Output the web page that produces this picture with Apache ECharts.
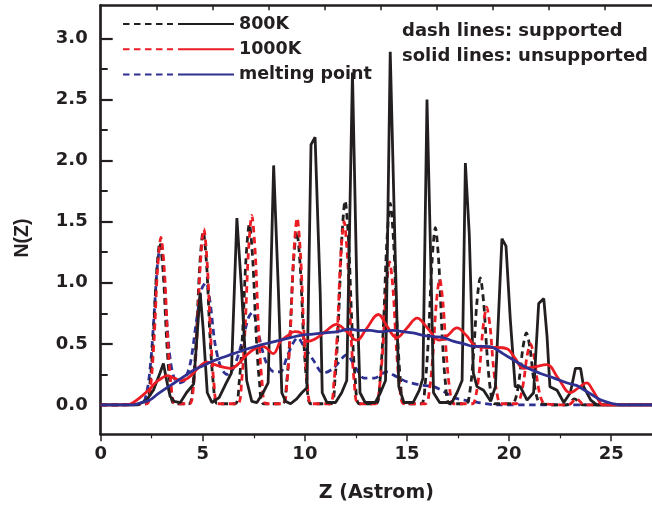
<!DOCTYPE html>
<html>
<head>
<meta charset="utf-8">
<script src="https://cdn.jsdelivr.net/npm/echarts@6/dist/echarts.min.js"></script>
<style>
    html, body {margin: 0; padding: 0; background: #fff;}
    #chart {width: 652px; height: 513px;}
</style>
</head>
<body>
<div id="chart"></div>
<script>
    // tick labels
    var xTicks = [0, 5, 10, 15, 20, 25];
    var xMinorTicks = [2.5, 7.5, 12.5, 17.5, 22.5];
    var yTicks = [0, 0.5, 1.0, 1.5, 2.0, 2.5, 3.0];
    var yMinorTicks = [0.25, 0.75, 1.25, 1.75, 2.25, 2.75];
    var topTicks = [1, 2, 3, 4, 5, 6, 7, 8, 9];

    // 800K, supported (dash)
    var sup800 = [[0, 0], [2.2, 0.01], [2.4, 0.16], [2.57, 0.53], [2.73, 1.06], [2.9, 1.33], [3.07, 1.06], [3.23, 0.53], [3.4, 0.16], [3.6, 0.01],
        [4.32, 0.01], [4.52, 0.17], [4.69, 0.57], [4.85, 1.14], [5.02, 1.42], [5.19, 1.14], [5.35, 0.57], [5.52, 0.17], [5.72, 0.01],
        [6.58, 0.01], [6.78, 0.18], [6.95, 0.59], [7.11, 1.18], [7.28, 1.48], [7.45, 1.18], [7.61, 0.59], [7.78, 0.18], [7.98, 0.01],
        [8.9, 0.01], [9.1, 0.17], [9.27, 0.57], [9.43, 1.14], [9.6, 1.42], [9.77, 1.14], [9.93, 0.57], [10.1, 0.17], [10.3, 0.01],
        [11.27, 0.01], [11.47, 0.2], [11.64, 0.67], [11.8, 1.34], [11.97, 1.67], [12.14, 1.34], [12.3, 0.67], [12.47, 0.2], [12.67, 0.01],
        [13.48, 0.01], [13.68, 0.2], [13.85, 0.66], [14.01, 1.32], [14.18, 1.65], [14.35, 1.32], [14.51, 0.66], [14.68, 0.2], [14.88, 0.01],
        [15.69, 0.01], [15.89, 0.17], [16.06, 0.58], [16.22, 1.16], [16.39, 1.45], [16.56, 1.16], [16.72, 0.58], [16.89, 0.17], [17.09, 0.01],
        [17.89, 0.01], [18.09, 0.12], [18.26, 0.42], [18.42, 0.83], [18.59, 1.04], [18.76, 0.83], [18.92, 0.42], [19.09, 0.12], [19.29, 0.01],
        [20.15, 0.01], [20.35, 0.07], [20.52, 0.24], [20.68, 0.47], [20.85, 0.59], [21.02, 0.47], [21.18, 0.24], [21.35, 0.07], [21.55, 0.01],
        [22.8, 0], [23.2, 0.05], [23.6, 0], [27, 0]];

    // 1000K, supported (dash)
    var sup1000 = [[0, 0], [2.25, 0.01], [2.45, 0.16], [2.62, 0.55], [2.78, 1.1], [2.95, 1.37], [3.12, 1.1], [3.28, 0.55], [3.45, 0.16], [3.65, 0.01],
        [4.35, 0.01], [4.55, 0.17], [4.72, 0.58], [4.88, 1.15], [5.05, 1.44], [5.22, 1.15], [5.38, 0.58], [5.55, 0.17], [5.75, 0.01],
        [6.7, 0.01], [6.9, 0.19], [7.07, 0.62], [7.23, 1.24], [7.4, 1.55], [7.57, 1.24], [7.73, 0.62], [7.9, 0.19], [8.1, 0.01],
        [8.92, 0.01], [9.12, 0.18], [9.29, 0.61], [9.45, 1.22], [9.62, 1.53], [9.79, 1.22], [9.95, 0.61], [10.12, 0.18], [10.32, 0.01],
        [11.22, 0.01], [11.42, 0.18], [11.59, 0.6], [11.75, 1.2], [11.92, 1.5], [12.09, 1.2], [12.25, 0.6], [12.42, 0.18], [12.62, 0.01],
        [13.45, 0.01], [13.65, 0.14], [13.82, 0.47], [13.98, 0.94], [14.15, 1.17], [14.32, 0.94], [14.48, 0.47], [14.65, 0.14], [14.85, 0.01],
        [15.9, 0.01], [16.1, 0.12], [16.27, 0.41], [16.43, 0.82], [16.6, 1.03], [16.77, 0.82], [16.93, 0.41], [17.1, 0.12], [17.3, 0.01],
        [18.2, 0.01], [18.4, 0.1], [18.57, 0.32], [18.73, 0.64], [18.9, 0.8], [19.07, 0.64], [19.23, 0.32], [19.4, 0.1], [19.6, 0.01],
        [20.35, 0.01], [20.55, 0.06], [20.72, 0.2], [20.88, 0.4], [21.05, 0.5], [21.22, 0.4], [21.38, 0.2], [21.55, 0.06], [21.75, 0.01],
        [22.9, 0], [23.3, 0.05], [23.7, 0], [27, 0]];

    // melting point, supported (dash)
    var supMelt = [[0, 0], [2.0, 0.01], [2.25, 0.1], [2.45, 0.35], [2.62, 0.75], [2.78, 1.15], [2.92, 1.3], [3.07, 1.12], [3.23, 0.7], [3.4, 0.38],
        [3.6, 0.22], [3.85, 0.18], [4.1, 0.2], [4.4, 0.35], [4.7, 0.7], [4.95, 0.95], [5.15, 1.0], [5.35, 0.85], [5.6, 0.5], [5.9, 0.3],
        [6.2, 0.25], [6.5, 0.3], [6.9, 0.5], [7.25, 0.72], [7.45, 0.76], [7.7, 0.6], [8.1, 0.35], [8.5, 0.27], [8.8, 0.27], [9.1, 0.38],
        [9.4, 0.5], [9.65, 0.55], [9.95, 0.48], [10.4, 0.37], [10.9, 0.26], [11.4, 0.3], [12.05, 0.41], [12.5, 0.3], [12.9, 0.22], [13.4, 0.22],
        [14.0, 0.27], [14.5, 0.23], [15.0, 0.19], [15.8, 0.16], [16.3, 0.15], [16.8, 0.11], [17.3, 0.06], [17.8, 0.04], [18.5, 0.02], [19.5, 0],
        [27, 0]];

    // 800K, unsupported (solid)
    var unsup800 = [[0, 0], [1.8, 0], [2.25, 0.04], [2.58, 0.12], [2.9, 0.26], [3.07, 0.34], [3.23, 0.2], [3.4, 0.07], [3.6, 0.03], [3.9, 0.02],
        [4.2, 0.1], [4.55, 0.17], [4.87, 0.92], [5.02, 0.62], [5.22, 0.1], [5.45, 0.02], [5.8, 0.06], [6.15, 0.18], [6.4, 0.26], [6.67, 1.53],
        [6.9, 0.94], [7.15, 0.2], [7.4, 0.03], [7.65, 0.02], [7.95, 0.1], [8.2, 0.18], [8.47, 1.96], [8.7, 0.95], [8.87, 0.1], [9.05, 0.03],
        [9.3, 0.01], [9.6, 0.05], [9.85, 0.1], [10.1, 0.14], [10.3, 2.13], [10.5, 2.19], [10.75, 0.92], [10.85, 0.1], [11.08, 0.02], [11.5, 0.02],
        [11.8, 0.1], [12.05, 0.2], [12.33, 2.72], [12.55, 0.92], [12.7, 0.1], [12.95, 0.02], [13.45, 0.02], [13.7, 0.1], [13.95, 0.2], [14.18, 2.89],
        [14.43, 1.19], [14.6, 0.15], [14.85, 0.02], [15.3, 0.02], [15.6, 0.12], [15.78, 0.22], [15.98, 2.5], [16.2, 0.92], [16.3, 0.1], [16.6, 0.02],
        [17.2, 0.02], [17.45, 0.1], [17.7, 0.2], [17.86, 1.98], [18.05, 1.4], [18.25, 0.26], [18.43, 0.15], [18.75, 0.12], [19.1, 0.03], [19.33, 0.15],
        [19.65, 1.36], [19.85, 1.3], [20.06, 0.7], [20.3, 0.15], [20.55, 0.15], [20.88, 0.04], [21.2, 0.1], [21.45, 0.83], [21.7, 0.87], [21.86, 0.56],
        [22.0, 0.15], [22.35, 0.12], [22.68, 0.02], [23.0, 0.1], [23.25, 0.3], [23.5, 0.3], [23.65, 0.15], [24.0, 0.04], [24.3, 0], [27, 0]];

    // 1000K, unsupported (solid)
    var unsup1000 = [[0, 0], [1.3, 0], [1.6, 0.02], [2.07, 0.08], [2.4, 0.13], [2.73, 0.19], [3.0, 0.22], [3.25, 0.24], [3.6, 0.22], [3.95, 0.2],
        [4.35, 0.23], [4.7, 0.29], [5.2, 0.35], [5.6, 0.33], [6.0, 0.31], [6.4, 0.3], [6.7, 0.33], [7.15, 0.41], [7.55, 0.46], [7.95, 0.48],
        [8.45, 0.42], [8.8, 0.52], [9.1, 0.56], [9.5, 0.6], [9.8, 0.59], [10.1, 0.52], [10.5, 0.54], [11.0, 0.6], [11.55, 0.66], [12.05, 0.6],
        [12.55, 0.53], [13.0, 0.62], [13.6, 0.74], [14.0, 0.65], [14.5, 0.55], [15.0, 0.63], [15.5, 0.71], [16.0, 0.63], [16.6, 0.53], [17.0, 0.57],
        [17.45, 0.63], [17.9, 0.57], [18.4, 0.48], [18.9, 0.47], [19.4, 0.47], [19.9, 0.46], [20.3, 0.38], [20.7, 0.3], [21.2, 0.31], [21.85, 0.33],
        [22.4, 0.22], [23.0, 0.1], [23.4, 0.14], [23.8, 0.18], [24.1, 0.12], [24.35, 0.05], [24.6, 0], [27, 0]];

    // melting point, unsupported (solid)
    var unsupMelt = [[0, 0], [1.6, 0], [2.0, 0.02], [2.4, 0.04], [2.8, 0.09], [3.23, 0.14], [3.6, 0.18], [4.05, 0.23], [4.5, 0.28], [4.87, 0.31],
        [5.5, 0.36], [6.0, 0.39], [6.5, 0.42], [7.2, 0.46], [7.8, 0.49], [8.3, 0.51], [8.8, 0.53], [9.3, 0.55], [9.8, 0.57], [10.4, 0.58],
        [11.0, 0.59], [11.6, 0.6], [12.2, 0.62], [12.7, 0.61], [13.2, 0.61], [13.7, 0.6], [14.3, 0.61], [14.8, 0.6], [15.3, 0.59], [15.8, 0.57],
        [16.3, 0.56], [16.8, 0.55], [17.3, 0.52], [17.8, 0.5], [18.25, 0.48], [18.8, 0.48], [19.2, 0.47], [19.7, 0.42], [20.2, 0.37], [20.8, 0.31],
        [21.5, 0.26], [22.2, 0.22], [22.85, 0.18], [23.3, 0.16], [23.6, 0.13], [24.0, 0.09], [24.5, 0.04], [25.1, 0.01], [25.5, 0], [27, 0]];

    var BLACK = '#231f20', RED = '#ec1c24', BLUE = '#2e3192';
    var FONT = 'DejaVu Sans';

    var chart = echarts.init(document.getElementById('chart'));

    function lineSeries(name, data, color, dashed, smooth) {
        return {
            name: name,
            type: 'line',
            data: data,
            symbol: 'none',
            smooth: smooth,
            animation: false,
            lineStyle: {color: color, width: 2.8, type: dashed ? [6.5, 4.5] : 'solid'},
            itemStyle: {color: color}
        };
    }

    var legendText = {fontFamily: FONT, fontWeight: 'bold', fontSize: 17.5, color: BLACK};

    var option = {
        animation: false,
        grid: {left: 100.7, right: 0, top: 5.3, bottom: 78.7, containLabel: false},
        legend: [
            {
                data: ['800K supported', '1000K supported', 'melting point supported'],
                orient: 'vertical', left: 122, top: 15, padding: 0,
                itemWidth: 50, itemHeight: 14, itemGap: 7.2,
                selectedMode: false,
                itemStyle: {opacity: 0},
                formatter: function () { return ' '; },
                textStyle: legendText
            },
            {
                data: ['800K', '1000K', 'melting point'],
                orient: 'vertical', left: 177, top: 15, padding: 0,
                itemWidth: 56, itemHeight: 14, itemGap: 7.2,
                selectedMode: false,
                itemStyle: {opacity: 0},
                textStyle: legendText
            }
        ],
        xAxis: [
            {
                type: 'value', position: 'bottom', min: 0, max: 27,
                name: 'Z (Astrom)', nameLocation: 'middle', nameGap: 49,
                nameTextStyle: {fontFamily: FONT, fontWeight: 'bold', fontSize: 19, color: BLACK},
                axisLine: {onZero: false, lineStyle: {color: BLACK, width: 2.7}},
                axisTick: {customValues: xTicks, length: 7, inside: false, lineStyle: {color: BLACK, width: 1.5}},
                axisLabel: {customValues: xTicks, margin: 11, fontFamily: FONT, fontWeight: 'bold', fontSize: 18, color: BLACK},
                splitLine: {show: false}
            },
            {
                type: 'value', position: 'bottom', min: 0, max: 27,
                axisLine: {show: false, onZero: false},
                axisTick: {customValues: xMinorTicks, length: 4, inside: false, lineStyle: {color: BLACK, width: 1.2}},
                axisLabel: {show: false},
                splitLine: {show: false}
            },
            {
                type: 'value', position: 'top', min: 0, max: 9.845,
                axisLine: {onZero: false, lineStyle: {color: BLACK, width: 2.5}},
                axisTick: {customValues: topTicks, length: 5, inside: true, lineStyle: {color: BLACK, width: 1.5}},
                axisLabel: {show: false},
                splitLine: {show: false}
            }
        ],
        yAxis: [
            {
                type: 'value', position: 'left', min: -0.24, max: 3.27,
                axisLine: {onZero: false, lineStyle: {color: BLACK, width: 2.7}},
                axisTick: {customValues: yTicks, length: 12, inside: true, lineStyle: {color: BLACK, width: 2.2}},
                axisLabel: {
                    customValues: yTicks, margin: 13, fontFamily: FONT, fontWeight: 'bold', fontSize: 18, color: BLACK,
                    formatter: function (v) { return v.toFixed(1); }
                },
                splitLine: {show: false}
            },
            {
                type: 'value', position: 'left', min: -0.24, max: 3.27,
                axisLine: {show: false, onZero: false},
                axisTick: {customValues: yMinorTicks, length: 7, inside: true, lineStyle: {color: BLACK, width: 2}},
                axisLabel: {show: false},
                splitLine: {show: false}
            }
        ],
        graphic: [
            {
                type: 'text', x: 23, y: 238, rotation: Math.PI / 2,
                style: {text: 'N(Z)', font: 'bold 19.5px "Liberation Sans"', fill: BLACK, align: 'center', verticalAlign: 'middle'}
            },
            {
                type: 'text', x: 402, y: 31,
                style: {text: 'dash lines: supported', font: 'bold 18px "DejaVu Sans"', fill: BLACK, align: 'left', verticalAlign: 'middle'}
            },
            {
                type: 'text', x: 402, y: 56,
                style: {text: 'solid lines: unsupported', font: 'bold 18px "DejaVu Sans"', fill: BLACK, align: 'left', verticalAlign: 'middle'}
            }
        ],
        series: [
            lineSeries('melting point supported', supMelt, BLUE, true, 0.3),
            lineSeries('800K supported', sup800, BLACK, true, 0.3),
            lineSeries('1000K supported', sup1000, RED, true, 0.3),
            lineSeries('800K', unsup800, BLACK, false, false),
            lineSeries('1000K', unsup1000, RED, false, 0.4),
            lineSeries('melting point', unsupMelt, BLUE, false, 0.4)
        ]
    };
    chart.setOption(option);
</script>
</body>
</html>
